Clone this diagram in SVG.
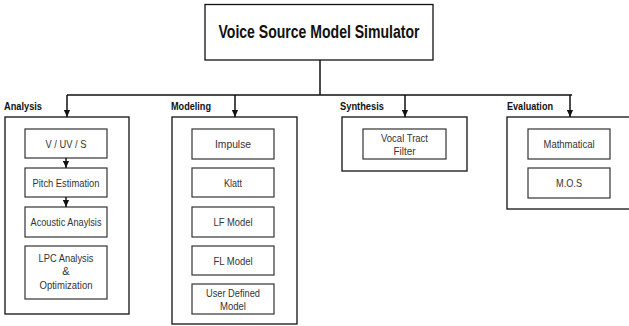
<svg xmlns="http://www.w3.org/2000/svg" width="629" height="326" viewBox="0 0 629 326">
<style>
.box{fill:#fff;stroke:#111;stroke-width:1.3}
.inner{fill:#fff;stroke:#333;stroke-width:1.2}
.ln{stroke:#111;stroke-width:1.5;fill:none}
.t{font-family:"Liberation Sans",Arial,sans-serif;font-size:11px;fill:#333;text-anchor:middle}
.lbl{font-family:"Liberation Sans",Arial,sans-serif;font-size:10.5px;font-weight:bold;fill:#111}
.title{font-family:"Liberation Sans",Arial,sans-serif;font-size:18px;font-weight:bold;fill:#111;text-anchor:middle}
</style>
<defs>
<marker id="ah" viewBox="0 0 8 8" refX="8" refY="4" markerWidth="7" markerHeight="7" markerUnits="userSpaceOnUse" orient="auto">
<path d="M0,0.5 L8,4 L0,7.5 Z" fill="#111"/>
</marker>
</defs>
<rect width="629" height="326" fill="#fff"/>
<g id="root">
<rect class="box" x="205" y="4.5" width="228" height="55.5"/>
<text class="title" x="319" y="38" textLength="201" lengthAdjust="spacingAndGlyphs">Voice Source Model Simulator</text>
</g>
<g id="analysis">
<text class="lbl" x="4" y="110" textLength="38" lengthAdjust="spacingAndGlyphs">Analysis</text>
<rect class="box" x="5" y="117" width="124" height="197"/>
</g>
<g id="vuvs"><rect class="inner" x="25" y="129" width="82" height="29"/><text class="t" x="66" y="148" textLength="41" lengthAdjust="spacingAndGlyphs">V / UV / S</text></g>
<g id="pitch"><rect class="inner" x="25" y="168" width="82" height="29"/><text class="t" x="66" y="187" textLength="67" lengthAdjust="spacingAndGlyphs">Pitch Estimation</text></g>
<g id="acoustic"><rect class="inner" x="25" y="207" width="82" height="30"/><text class="t" x="66" y="226" textLength="71" lengthAdjust="spacingAndGlyphs">Acoustic Anaylsis</text></g>
<g id="lpc"><rect class="inner" x="25" y="246" width="82" height="53"/>
<text class="t" x="66" y="262" textLength="55" lengthAdjust="spacingAndGlyphs">LPC Analysis</text>
<text class="t" x="66" y="275">&amp;</text>
<text class="t" x="66" y="289" textLength="53" lengthAdjust="spacingAndGlyphs">Optimization</text></g>
<g id="modeling">
<text class="lbl" x="171" y="110" textLength="40" lengthAdjust="spacingAndGlyphs">Modeling</text>
<rect class="box" x="172" y="117" width="125" height="207"/>
</g>
<g id="impulse"><rect class="inner" x="192" y="129" width="82" height="30"/><text class="t" x="233" y="148" textLength="36" lengthAdjust="spacingAndGlyphs">Impulse</text></g>
<g id="klatt"><rect class="inner" x="192" y="168" width="82" height="29"/><text class="t" x="233" y="187" textLength="18" lengthAdjust="spacingAndGlyphs">Klatt</text></g>
<g id="lf"><rect class="inner" x="192" y="207" width="82" height="30"/><text class="t" x="233" y="226" textLength="39" lengthAdjust="spacingAndGlyphs">LF Model</text></g>
<g id="fl"><rect class="inner" x="192" y="246" width="82" height="29"/><text class="t" x="233" y="265" textLength="39" lengthAdjust="spacingAndGlyphs">FL Model</text></g>
<g id="user"><rect class="inner" x="192" y="284" width="82" height="30"/>
<text class="t" x="233" y="297" textLength="54" lengthAdjust="spacingAndGlyphs">User Defined</text>
<text class="t" x="233" y="310" textLength="26" lengthAdjust="spacingAndGlyphs">Model</text></g>
<g id="synthesis">
<text class="lbl" x="340" y="110" textLength="44" lengthAdjust="spacingAndGlyphs">Synthesis</text>
<rect class="box" x="342" y="117" width="125" height="54"/>
</g>
<g id="vocal"><rect class="inner" x="363" y="129" width="83" height="30"/>
<text class="t" x="404.5" y="142" textLength="47" lengthAdjust="spacingAndGlyphs">Vocal Tract</text>
<text class="t" x="404.5" y="155" textLength="22" lengthAdjust="spacingAndGlyphs">Filter</text></g>
<g id="evaluation">
<text class="lbl" x="507" y="110" textLength="46" lengthAdjust="spacingAndGlyphs">Evaluation</text>
<rect class="box" x="507" y="117" width="124" height="92"/>
</g>
<g id="math"><rect class="inner" x="528" y="129" width="82" height="30"/><text class="t" x="569" y="148" textLength="51" lengthAdjust="spacingAndGlyphs">Mathmatical</text></g>
<g id="mos"><rect class="inner" x="528" y="168" width="82" height="30"/><text class="t" x="569" y="187" textLength="26" lengthAdjust="spacingAndGlyphs">M.O.S</text></g>
<g id="connectors">
<path class="ln" d="M320,60 V95 M67,95 H572"/>
<path class="ln" d="M67,95 V117" marker-end="url(#ah)"/>
<path class="ln" d="M235,95 V117" marker-end="url(#ah)"/>
<path class="ln" d="M405,95 V117" marker-end="url(#ah)"/>
<path class="ln" d="M570,95 V117" marker-end="url(#ah)"/>
<path class="ln" d="M66,158 V168" marker-end="url(#ah)"/>
<path class="ln" d="M66,197 V207" marker-end="url(#ah)"/>
</g>
</svg>
